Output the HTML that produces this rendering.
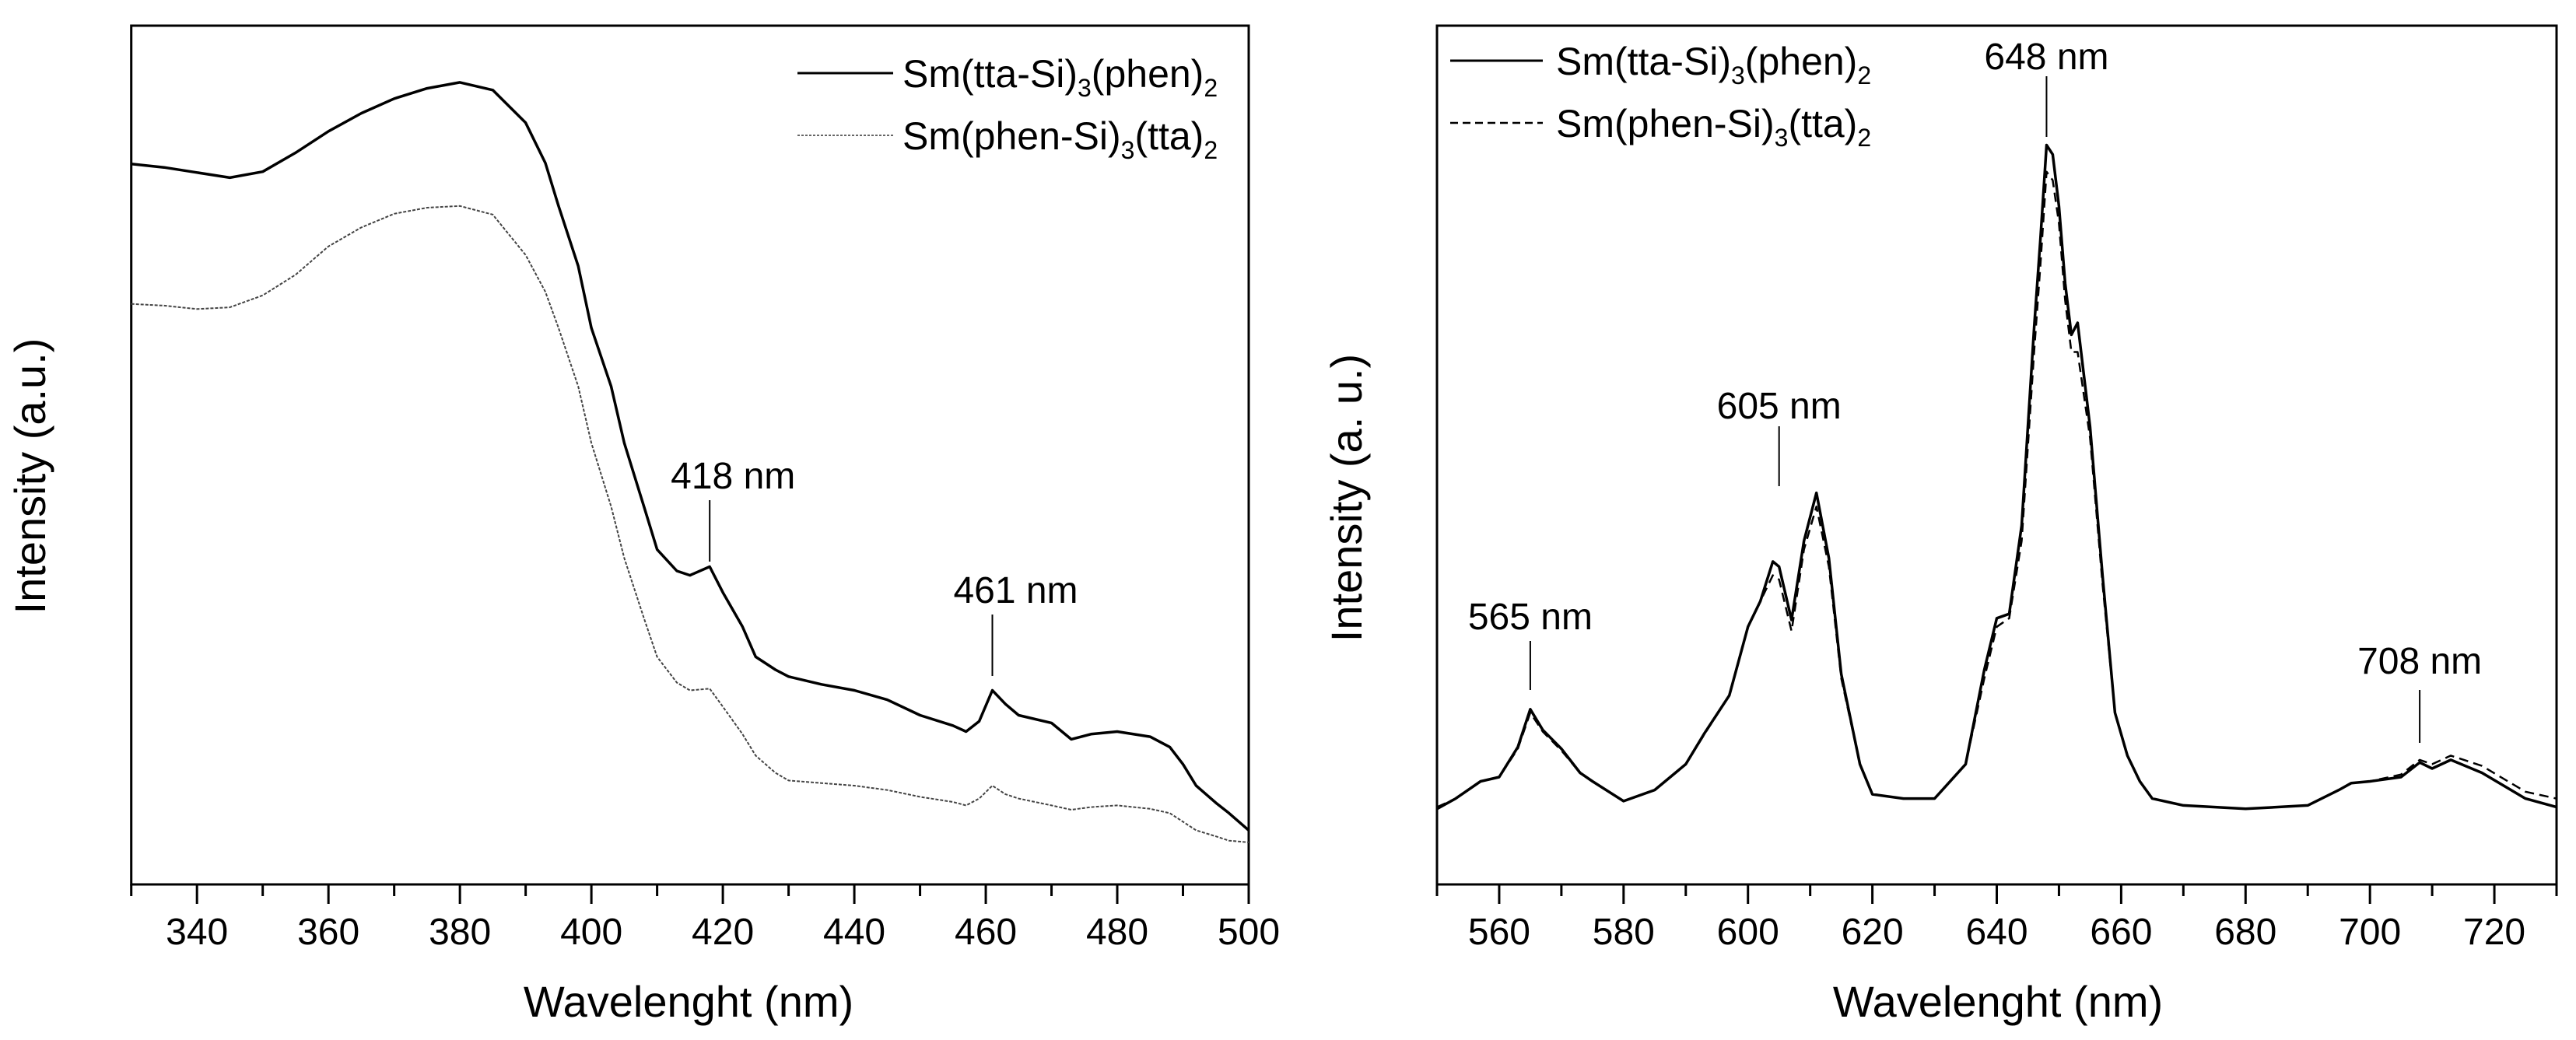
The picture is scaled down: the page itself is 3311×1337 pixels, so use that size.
<!DOCTYPE html>
<html><head><meta charset="utf-8"><style>
html,body{margin:0;padding:0;background:#fff;}
svg{display:block;font-family:"Liberation Sans",Arial,sans-serif;}
</style></head><body>
<svg id="chart" width="3311" height="1337" viewBox="0 0 3311 1337" xmlns="http://www.w3.org/2000/svg">
<rect x="0" y="0" width="3311" height="1337" fill="#fff"/>
<g id="left"></g>
<g id="right"></g>
</svg>
<script>
// Left panel data (excitation)
const leftWl = [330,335,340,345,350,355,360,365,370,375,380,385,390,393,395,398,400,403,405,408,410,413,415,418,420,423,425,428,430,435,440,445,450,455,457,459,461,463,465,470,473,476,480,485,488,490,492,495,497,500];
const leftA = [.839,.835,.829,.823,.83,.852,.877,.898,.915,.927,.934,.925,.887,.84,.79,.72,.648,.58,.514,.44,.39,.365,.36,.37,.34,.3,.265,.25,.242,.233,.226,.215,.197,.185,.178,.19,.226,.21,.197,.188,.169,.175,.178,.172,.16,.14,.115,.095,.083,.063];
const leftB = [.676,.674,.67,.672,.686,.71,.743,.765,.781,.788,.79,.78,.733,.69,.648,.58,.514,.44,.38,.31,.265,.235,.226,.228,.207,.175,.15,.13,.121,.118,.115,.11,.102,.096,.092,.1,.115,.105,.1,.092,.087,.09,.092,.088,.083,.073,.063,.056,.051,.049];
const leftTicks = [340,360,380,400,420,440,460,480,500];
// Right panel data (emission)
const rightWl = [550,553,557,560,563,565,567,570,573,575,580,585,590,593,597,600,602,604,605,607,609,611,613,615,618,620,625,630,635,638,640,642,644,646,647,648,649,650,651,652,653,655,657,659,661,663,665,670,680,690,695,697,700,705,708,710,713,718,725,730];
const rightA = [.088,.1,.12,.125,.16,.204,.18,.158,.13,.12,.097,.11,.14,.176,.22,.3,.33,.376,.37,.308,.4,.456,.38,.245,.14,.105,.1,.1,.14,.25,.31,.315,.418,.648,.75,.861,.85,.79,.7,.64,.654,.533,.36,.2,.15,.12,.1,.092,.088,.092,.11,.118,.12,.125,.142,.135,.145,.13,.1,.09];
const rightB = [.09,.1,.12,.125,.158,.2,.178,.156,.13,.12,.097,.11,.14,.175,.22,.3,.33,.36,.355,.295,.39,.44,.37,.24,.14,.105,.1,.1,.14,.24,.3,.31,.4,.62,.72,.83,.82,.77,.68,.62,.62,.52,.35,.2,.15,.12,.1,.092,.088,.092,.11,.118,.12,.128,.145,.14,.15,.138,.108,.1];
const rightTicks = [560,580,600,620,640,660,680,700,720];

const NS = "http://www.w3.org/2000/svg";
function mk(parent, tag, attrs, text){
  const e = document.createElementNS(NS, tag);
  for (const k in attrs) e.setAttribute(k, attrs[k]);
  if (text !== undefined) e.textContent = text;
  parent.appendChild(e); return e;
}
function panel(g, cfg){
  const {x0,x1,y0,y1,xmin,xmax} = cfg;
  const sx = v => x0 + (v - xmin) / (xmax - xmin) * (x1 - x0);
  const sy = v => y1 - v * (y1 - y0);
  const fr = mk(g,'rect',{x:x0,y:y0,width:x1-x0,height:y1-y0,fill:'none',stroke:'#000','stroke-width':3});
  
  
  for (let v = xmin; v <= xmax + 0.01; v += 10){
    const major = cfg.ticks.includes(v);
    const t = mk(g,'line',{x1:sx(v),x2:sx(v),y1:y1,y2:y1+(major?25:15),stroke:'#000','stroke-width':3});
    
    
  }
  cfg.ticks.forEach(v=>{
    const l = mk(g,'text',{x:sx(v),y:1214,'font-size':48,'text-anchor':'middle'}, String(v));
    
    
  });
  const xt = mk(g,'text',{x:cfg.xtx,y:1307,'font-size':56,'text-anchor':'middle'},'Wavelenght (nm)');
  
  
  const yt = mk(g,'text',{x:0,y:0,'font-size':56,'text-anchor':'middle',transform:`translate(${cfg.ytx},${cfg.yty}) rotate(-90)`}, cfg.ylabel);
  
  
  cfg.series.forEach(s=>{
    const pts = s.wl.map((w,i)=>sx(w).toFixed(1)+','+sy(s.vals[i]).toFixed(1)).join(' ');
    const p = mk(g,'polyline',{points:pts,fill:'none',stroke:s.color,'stroke-width':s.width,'stroke-dasharray':s.dash||'none','stroke-linejoin':'round'});
    
    
  });
  cfg.ann.forEach(a=>{
    const ln = mk(g,'line',{x1:sx(a.wl),x2:sx(a.wl),y1:a.ly1,y2:a.ly2,stroke:'#000','stroke-width':2});
    
    
    const tx = mk(g,'text',{x:sx(a.wl)+(a.dx||0),y:a.ty,'font-size':48,'text-anchor':'middle'}, a.wl+' nm');
    
    
  });
  cfg.legend.forEach(L=>{
    const ln = mk(g,'line',{x1:L.lx1,x2:L.lx2,y1:L.ly,y2:L.ly,stroke:L.color,'stroke-width':L.width,'stroke-dasharray':L.dash||'none'});
    
    
    const t = mk(g,'text',{x:L.tx,y:L.ty,'font-size':50});
    
    
    mk(t,'tspan',{},L.a);
    mk(t,'tspan',{'font-size':32,dy:12},'3');
    mk(t,'tspan',{dy:-12},L.b);
    mk(t,'tspan',{'font-size':32,dy:12},'2');
  });
}
panel(document.getElementById('left'),{
  x0:168.7,x1:1605,y0:33,y1:1137,xmin:330,xmax:500,ticks:leftTicks,
  xtx:885,ytx:58,yty:612,ylabel:'Intensity (a.u.)',
  series:[
    {name:'series-tta-si',wl:leftWl,vals:leftA,color:'#000',width:3.5},
    {name:'series-phen-si',wl:leftWl,vals:leftB,color:'#444',width:2,dash:'4 2'}
  ],
  ann:[{wl:418,ly1:643,ly2:722,ty:628,dx:30},{wl:461,ly1:790,ly2:869,ty:775,dx:30}],
  legend:[
    {lx1:1025,lx2:1148,ly:94,tx:1160,ty:112,color:'#000',width:3,a:'Sm(tta-Si)',b:'(phen)'},
    {lx1:1025,lx2:1148,ly:174,tx:1160,ty:192,color:'#666',width:2,dash:'3 2',a:'Sm(phen-Si)',b:'(tta)'}
  ]
});
panel(document.getElementById('right'),{
  x0:1847,x1:3286,y0:33,y1:1137,xmin:550,xmax:730,ticks:rightTicks,
  xtx:2568,ytx:1750,yty:640,ylabel:'Intensity (a. u.)',
  series:[
    {name:'series-tta-si',wl:rightWl,vals:rightA,color:'#000',width:3.5},
    {name:'series-phen-si',wl:rightWl,vals:rightB,color:'#000',width:2.5,dash:'12 7'}
  ],
  ann:[{wl:565,ly1:824,ly2:887,ty:809,dx:0},{wl:605,ly1:548,ly2:625,ty:538,dx:0},{wl:648,ly1:98,ly2:176,ty:89,dx:0},{wl:708,ly1:887,ly2:955,ty:866,dx:0}],
  legend:[
    {lx1:1864,lx2:1983,ly:78,tx:2000,ty:96,color:'#000',width:3,a:'Sm(tta-Si)',b:'(phen)'},
    {lx1:1864,lx2:1983,ly:158,tx:2000,ty:176,color:'#000',width:2.5,dash:'10 6',a:'Sm(phen-Si)',b:'(tta)'}
  ]
});
</script>
</body></html>
